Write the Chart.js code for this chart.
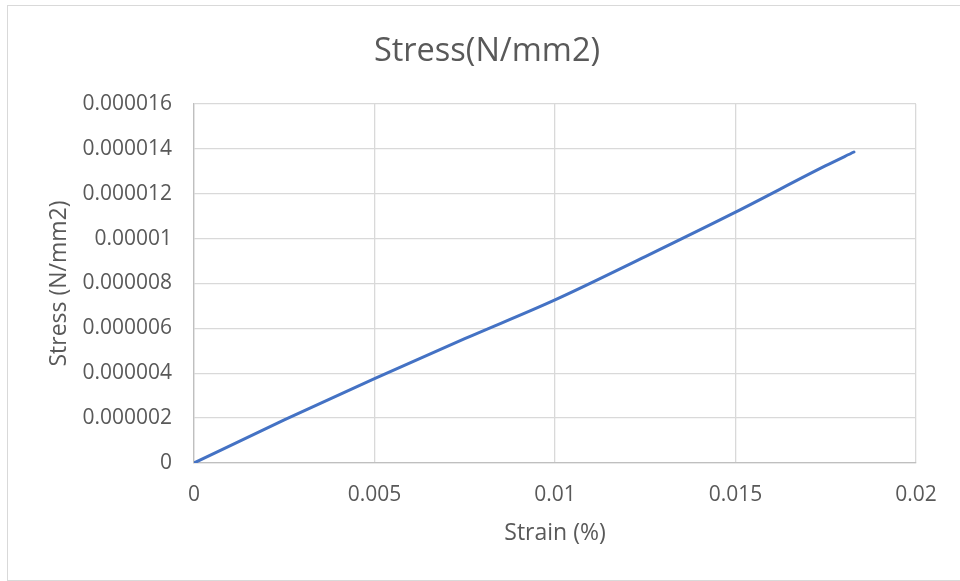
<!DOCTYPE html>
<html>
<head>
<meta charset="utf-8">
<title>Stress(N/mm2)</title>
<script src="https://cdn.jsdelivr.net/npm/chart.js@4/dist/chart.umd.min.js"></script>
<style>
  html, body { margin: 0; padding: 0; background: #fff; }
  #box { position: relative; width: 960px; height: 581px; }
</style>
</head>
<body>
<div id="box"><canvas id="stressChart"></canvas></div>
<script>
// strain (%) vs stress (N/mm2)
const strain = [0, 0.0025, 0.005, 0.0075, 0.01, 0.0125, 0.015, 0.0175, 0.01828];
const stress = [0, 0.00000192, 0.00000376, 0.00000554, 0.00000727, 0.0000092, 0.00001118, 0.00001325, 0.00001386];

const xTicks = [0, 0.005, 0.01, 0.015, 0.02];
const xTickLabels = ['0', '0.005', '0.01', '0.015', '0.02'];
const yTicks = [0, 0.000002, 0.000004, 0.000006, 0.000008, 0.00001, 0.000012, 0.000014, 0.000016];
const yTickLabels = ['0', '0.000002', '0.000004', '0.000006', '0.000008', '0.00001', '0.000012', '0.000014', '0.000016'];

const txt = '#595959';
const grid = '#d9d9d9';
const fam = '"Open Sans", "Noto Sans", sans-serif';

// thin grey frame around the whole chart, title nudged right over the plot
const frame = {
    id: 'frame',
    afterLayout(chart) {
        const t = chart.titleBlock;
        if (t) { t.left += 58; t.width -= 58; }
    },
    beforeDraw(chart) {
        const c = chart.ctx;
        c.save();
        c.strokeStyle = grid;
        c.lineWidth = 1;
        c.strokeRect(7.5, 5.5, 960, 575);
        c.restore();
    }
};

const points = strain.map((x, i) => ({ x: x, y: stress[i] }));

new Chart(document.getElementById('stressChart'), {
    type: 'scatter',
    data: {
        datasets: [{
            label: 'Stress(N/mm2)',
            data: points,
            showLine: true,
            borderColor: '#4472c4',
            borderWidth: 3,
            borderCapStyle: 'round',
            pointRadius: 0,
            cubicInterpolationMode: 'monotone'
        }]
    },
    options: {
        responsive: true,
        maintainAspectRatio: false,
        animation: false,
        layout: { padding: { left: 0, right: 44, top: 0, bottom: 0 } },
        plugins: {
            legend: { display: false },
            tooltip: { enabled: false },
            title: {
                display: true,
                text: 'Stress(N/mm2)',
                color: txt,
                font: { family: fam, size: 32.5, weight: 'normal' },
                padding: { top: 32, bottom: 33 }
            }
        },
        scales: {
            x: {
                type: 'linear',
                min: 0,
                max: 0.02,
                afterBuildTicks: s => { s.ticks = xTicks.map(v => ({ value: v })); },
                afterFit: s => { s.height = 118; },
                ticks: {
                    color: txt,
                    padding: 19,
                    font: { family: fam, size: 21 },
                    maxRotation: 0,
                    callback: (v, i) => xTickLabels[i]
                },
                grid: { color: grid, lineWidth: 1.3, drawTicks: false },
                border: { color: '#bfbfbf', width: 1.3 },
                title: {
                    display: true,
                    text: 'Strain (%)',
                    color: txt,
                    font: { family: fam, size: 23 },
                    padding: { top: 0, bottom: 34 }
                }
            },
            y: {
                type: 'linear',
                min: 0,
                max: 0.000016,
                afterBuildTicks: s => { s.ticks = yTicks.map(v => ({ value: v })); },
                afterFit: s => { s.width = 194; },
                ticks: {
                    color: txt,
                    padding: 22,
                    font: { family: fam, size: 21 },
                    callback: (v, i) => yTickLabels[i]
                },
                grid: { color: grid, lineWidth: 1.3, drawTicks: false },
                border: { color: '#bfbfbf', width: 1.3 },
                title: {
                    display: true,
                    text: 'Stress (N/mm2)',
                    color: txt,
                    font: { family: fam, size: 23 },
                    padding: { top: 46, bottom: 0 }
                }
            }
        }
    },
    plugins: [frame]
});
</script>
</body>
</html>
